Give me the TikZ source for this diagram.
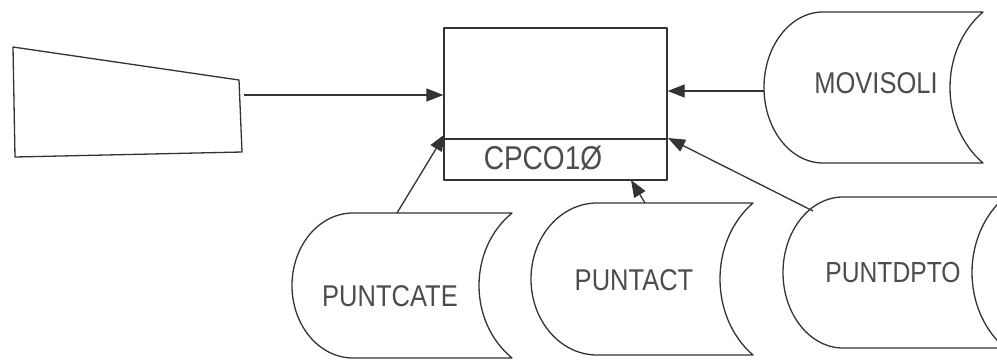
\documentclass[tikz,border=0pt]{standalone}
\usepackage{fontspec}
\newfontfamily\handfont[FakeStretch=0.85]{Liberation Sans}
\usetikzlibrary{arrows.meta}

% stored-data symbol: #1 left x, #2 top y, #3 bottom y, #4 left bulge,
% #5 right x, #6 depth of the concave right side
\newcommand{\storedshape}[6]{%
  \pgfmathsetmacro{\sdmid}{(#2+#3)/2}%
  \pgfmathsetmacro{\sdhalf}{(#3-#2)/2}%
  \pgfmathsetmacro{\sdcx}{#1+#4}%
  \pgfmathsetmacro{\sdin}{#5-#6/0.75}%
  \draw[shapeline]
    (\sdcx,#2) -- (#5,#2)
    .. controls (\sdin,#2+0.25*\sdhalf*2) and (\sdin,#3-0.25*\sdhalf*2) .. (#5,#3)
    -- (\sdcx,#3)
    .. controls (\sdcx-0.5523*#4,#3) and (#1,\sdmid+0.5523*\sdhalf) .. (#1,\sdmid)
    .. controls (#1,\sdmid-0.5523*\sdhalf) and (\sdcx-0.5523*#4,#2) .. cycle;%
}

\tikzset{
  shapeline/.style={draw=black!80, line width=1.3pt, line join=round},
  flow/.style={draw=black!80, line width=1.3pt,
    -{Triangle[length=17pt,width=13pt]}},
  label/.style={font=\handfont\fontsize{30}{32}\selectfont, text=black!70,
    inner sep=0pt}
}

\begin{document}
\begin{tikzpicture}[x=1pt,y=-1pt]
  \useasboundingbox (0,0) rectangle (997,360);
  \clip (0,0) rectangle (997,360);
  \fill[white] (0,0) rectangle (997,360);

  % manual input
  \draw[shapeline] (13,47) -- (239,80) -- (242,152) -- (15,157) -- cycle;
  \coordinate (inp) at (244,95);

  % program box with its name strip
  \node[shapeline, rectangle, minimum width=223pt, minimum height=152pt,
        inner sep=0pt] (prog) at (555.5,104) {};
  \draw[shapeline] (444,139) -- (667,139);
  \node[label, font=\handfont\fontsize{33}{34}\selectfont] (progname)
    at (543,158) {CPCO1Ø};

  % data files
  \storedshape{764}{12}{163}{59}{983}{33}
  \node[label] (movisoli) at (876,83) {MOVISOLI};
  \coordinate (movL) at (764,91);

  \storedshape{292}{213}{358}{61}{512}{33}
  \node[label] (puntcate) at (390,296) {PUNTCATE};
  \coordinate (catT) at (397,213);

  \storedshape{531}{203}{355}{66}{753}{33}
  \node[label] (puntact) at (634,280) {PUNTACT};
  \coordinate (actT) at (645,203);

  \storedshape{783}{197}{348}{60}{1005}{33}
  \node[label, font=\handfont\fontsize{29}{31}\selectfont] (puntdpto)
    at (893,273) {PUNTDPTO};
  \coordinate (dptT) at (813,211);

  % data flows into the program
  \draw[flow] (inp) -- (prog.west |- inp);
  \draw[flow] (movL) -- (prog.east |- movL);
  \draw[flow] (catT) -- (445,134);
  \draw[flow] (actT) -- (631,180);
  \draw[flow] (dptT) -- (668,138);
\end{tikzpicture}
\end{document}
